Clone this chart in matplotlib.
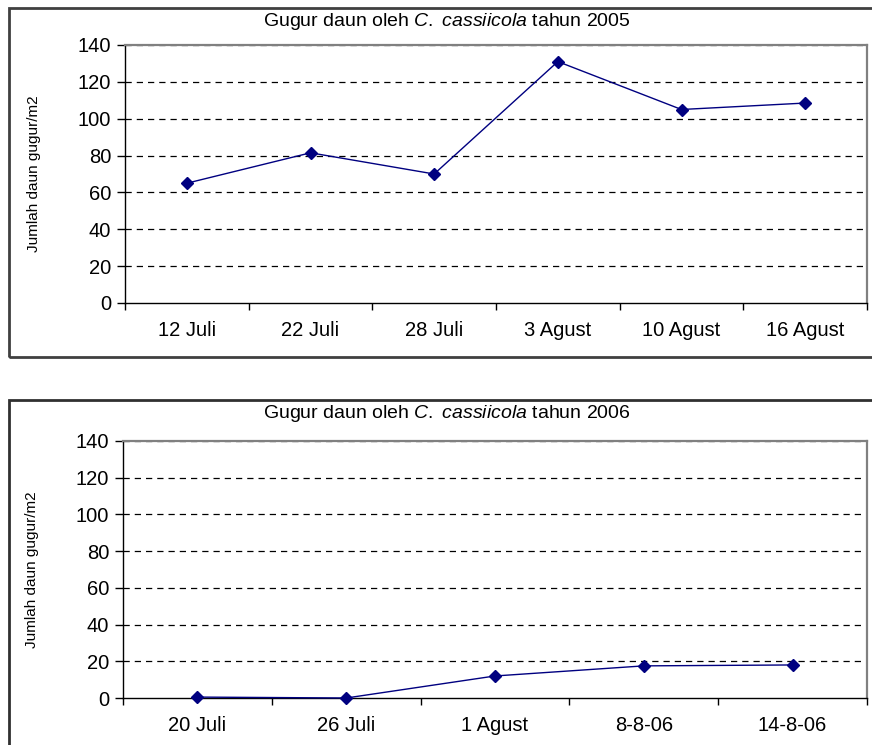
import matplotlib
matplotlib.use("Agg")
import matplotlib.pyplot as plt
from matplotlib.patches import Rectangle

plt.rcParams['font.family'] = ['Liberation Sans', 'DejaVu Sans']
plt.rcParams['mathtext.fontset'] = 'custom'
plt.rcParams['mathtext.rm'] = 'Liberation Sans'
plt.rcParams['mathtext.it'] = 'Liberation Sans:italic'

cats_2005 = ["12 Juli", "22 Juli", "28 Juli", "3 Agust", "10 Agust", "16 Agust"]
vals_2005 = [65, 81.5, 70, 131, 105, 108.5]

cats_2006 = ["20 Juli", "26 Juli", "1 Agust", "8-8-06", "14-8-06"]
vals_2006 = [0.5, 0, 12, 17.5, 18]

yticks = [0, 20, 40, 60, 80, 100, 120, 140]

W, H = 872, 745
fig = plt.figure(figsize=(W / 100, H / 100), dpi=100)

def fx(px):
    return px / W

def fy(py):
    return 1 - py / H

# outer boxes
fig.patches.append(Rectangle((fx(9), fy(357)), fx(880) - fx(9), fy(8) - fy(357),
                             transform=fig.transFigure, fill=False,
                             edgecolor="#404040", lw=2))
fig.patches.append(Rectangle((fx(9), fy(760)), fx(880) - fx(9), fy(400) - fy(760),
                             transform=fig.transFigure, fill=False,
                             edgecolor="#303030", lw=2))

def panel(rect, cats, vals, title, title_y):
    ax = fig.add_axes(rect)
    n = len(cats)
    x = list(range(n))
    ax.plot(x, vals, color="#000080", lw=1.0, marker="D", markersize=6,
            markerfacecolor="#000080", markeredgecolor="#000080", zorder=5,
            clip_on=False)
    ax.set_xlim(-0.5, n - 0.5)
    ax.set_ylim(0, 140)
    ax.set_yticks(yticks)
    ax.set_yticklabels([str(v) for v in yticks], fontsize=14.5)
    ax.set_xticks(x)
    ax.set_xticklabels(cats, fontsize=14.5)
    ax.tick_params(axis="x", which="major", length=0, pad=13)
    ax.set_xticks([i - 0.5 for i in range(n + 1)], minor=True)
    ax.tick_params(axis="x", which="minor", length=5, direction="out", width=1)
    ax.tick_params(axis="y", length=6, direction="out", width=1, pad=4)
    for yv in yticks[1:]:
        ax.axhline(yv, color="black", lw=0.9, ls=(0, (5, 4)), zorder=1)
    for s in ["top", "right"]:
        ax.spines[s].set_color("#808080")
        ax.spines[s].set_linewidth(1.6)
    for s in ["left", "bottom"]:
        ax.spines[s].set_color("black")
        ax.spines[s].set_linewidth(1.0)
    ax.set_ylabel("Jumlah daun gugur/m2", fontsize=11)
    ax.yaxis.set_label_coords(-0.113, 0.5)
    fig.text(fx(447), fy(title_y), title, ha="center", va="center", fontsize=14)
    return ax

t1 = r"Gugur daun oleh $\it{C.}$ $\it{cassiicola}$ tahun 2005"
t2 = r"Gugur daun oleh $\it{C.}$ $\it{cassiicola}$ tahun 2006"

ax1 = panel([fx(125), fy(303), fx(867) - fx(125), fy(45) - fy(303)],
            cats_2005, vals_2005, t1, 21)
ax2 = panel([fx(123), fy(698), fx(867) - fx(123), fy(441) - fy(698)],
            cats_2006, vals_2006, t2, 413)

fig.savefig("out.png", dpi=100)
